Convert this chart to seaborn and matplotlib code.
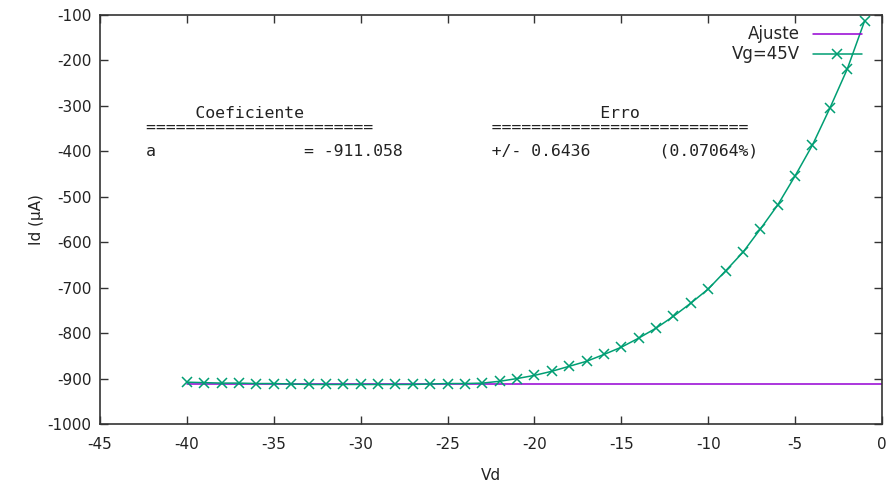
import numpy as np
import pandas as pd
import seaborn as sns
import matplotlib
matplotlib.use("Agg")
import matplotlib.pyplot as plt

# Measured drain current for Vg = 45 V
vd = [-40, -39, -38, -37, -36, -35, -34, -33, -32, -31, -30, -29, -28, -27,
      -26, -25, -24, -23, -22, -21, -20, -19, -18, -17, -16, -15, -14, -13,
      -12, -11, -10, -9, -8, -7, -6, -5, -4, -3, -2, -1]
id_ua = [-908, -909, -910, -910, -911, -911, -912, -913, -913, -913, -913,
         -913, -913, -913, -912, -911, -911, -910, -906, -900, -893, -884,
         -873, -862, -847, -831, -811, -789, -763, -734, -703, -663, -622,
         -571, -518, -454, -386, -305, -219, -113]

# Constant fit Id = a
fit_a = -911.058
fit_err = 0.6436
fit_pct = 0.07064

x_ticks = [-45, -40, -35, -30, -25, -20, -15, -10, -5, 0]
y_ticks = [-1000, -900, -800, -700, -600, -500, -400, -300, -200, -100]

purple = "#9400d3"
green = "#009e73"

sns.set_theme(style="white")
plt.rcParams["font.family"] = ["DejaVu Sans"]

W, H = 892, 486
L, R, T, B = 100, 882, 15, 424
fig = plt.figure(figsize=(W / 100, H / 100), dpi=100)
ax = fig.add_axes([L / W, 1 - B / H, (R - L) / W, (B - T) / H])

fit_df = pd.DataFrame({"Vd": [min(vd), 0], "Id": [fit_a, fit_a]})
data_df = pd.DataFrame({"Vd": vd, "Id": id_ua})

sns.lineplot(data=fit_df, x="Vd", y="Id", ax=ax, color=purple, lw=1.1,
             label="Ajuste")
sns.lineplot(data=data_df, x="Vd", y="Id", ax=ax, color=green, lw=1.1,
             marker="x", markersize=7, markeredgewidth=1.1,
             markeredgecolor=green, label="Vg=45V")

ax.set_xlim(-45, 0)
ax.set_ylim(-1000, -100)
ax.set_xticks(x_ticks)
ax.set_yticks(y_ticks)
ax.set_xticklabels([str(t) for t in x_ticks])
ax.set_yticklabels([str(t) for t in y_ticks])
ax.tick_params(axis="both", which="both", direction="in", length=6,
               width=1, color="#333333", labelsize=11, labelcolor="#222222",
               top=True, right=True, bottom=True, left=True, pad=6)
ax.tick_params(axis="x", pad=9)
for sp in ax.spines.values():
    sp.set_color("#333333")
    sp.set_linewidth(1.2)

ax.set_xlabel("Vd", fontsize=11, color="#222222", labelpad=12)
ax.set_ylabel("Id (µA)", fontsize=11, color="#222222", labelpad=3)

leg = ax.legend(loc="upper right", bbox_to_anchor=(0.987, 0.999),
                frameon=False, markerfirst=False, fontsize=12,
                handlelength=2.95, handletextpad=0.75, labelspacing=0.12,
                borderaxespad=0.2)

# Fit summary block
mono = dict(family="DejaVu Sans Mono", fontsize=11.85, color="#222222",
            transform=ax.transAxes, va="center", ha="left")
x0 = (146 - L) / (R - L)
ax.text(x0, (B - 114) / (B - T),
        "     Coeficiente" + " " * 30 + "Erro", **mono)
ax.text(x0, (B - 128) / (B - T),
        "=" * 23 + " " * 12 + "=" * 26, **mono)
ax.text(x0, (B - 151) / (B - T),
        "a" + " " * 15 + f"= {fit_a:.3f}" + " " * 9 +
        f"+/- {fit_err:.4f}" + " " * 7 + f"({fit_pct:.5f}%)", **mono)

fig.savefig("out.png", dpi=100)
